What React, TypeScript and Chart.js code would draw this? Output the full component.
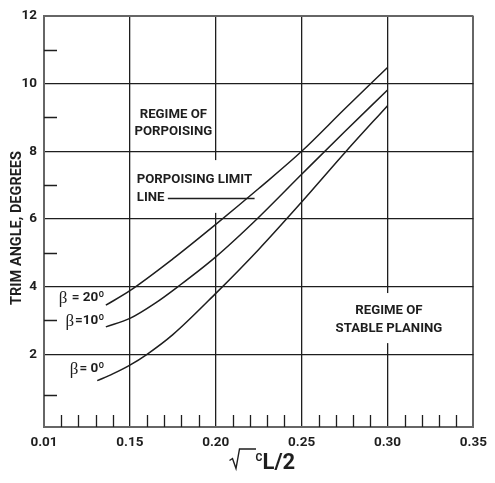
import React, { useEffect, useRef } from "react";
import { Chart, registerables } from "chart.js";

Chart.register(...registerables);

// ---- Data ----
const xTickValues = [0.1, 0.15, 0.2, 0.25, 0.3, 0.35];
const xTickLabels = ["0.01", "0.15", "0.20", "0.25", "0.30", "0.35"];
const yTickValues = [2, 4, 6, 8, 10, 12];
const yTickLabels = ["2", "4", "6", "8", "10", "12"];
const xMinorTicks = [0.11, 0.12, 0.13, 0.14, 0.16, 0.17, 0.18, 0.19, 0.21, 0.22, 0.23, 0.24, 0.26, 0.27, 0.28, 0.29, 0.31, 0.32, 0.33, 0.34];
const yMinorTicks = [0.8, 3, 5, 7, 9, 11];

const beta20X = [0.136, 0.15, 0.175, 0.2, 0.225, 0.25, 0.275, 0.3];
const beta20Y = [3.45, 3.88, 4.82, 5.84, 6.9, 8.0, 9.25, 10.48];
const beta10X = [0.136, 0.15, 0.165, 0.178, 0.2, 0.224, 0.25, 0.275, 0.3];
const beta10Y = [2.81, 3.06, 3.52, 4.0, 4.88, 6.0, 7.32, 8.58, 9.81];
const beta0X = [0.131, 0.14, 0.15, 0.16, 0.175, 0.2, 0.225, 0.25, 0.275, 0.3];
const beta0Y = [1.22, 1.42, 1.68, 2.0, 2.58, 3.8, 5.1, 6.5, 7.95, 9.35];

const seriesNames = ["β = 20º", "β=10º", "β= 0º"];

const SANS = "Roboto";
const INK = "#1e1e1e";

const toPoints = (xs: number[], ys: number[]) => xs.map((x, i) => ({ x, y: ys[i] }));

const annotationPlugin = {
  id: "annotations",
  beforeDatasetsDraw(chart: any) {
    const { ctx, chartArea } = chart;
    const xs = chart.scales.x;
    const ys = chart.scales.y;
    const X = (v: number) => xs.getPixelForValue(v);
    const Y = (v: number) => ys.getPixelForValue(v);
    ctx.save();

    // white boxes that interrupt grid lines behind text
    ctx.fillStyle = "#ffffff";
    const box = (x0: number, x1: number, y0: number, y1: number) => {
      ctx.fillRect(X(x0), Y(y0), X(x1) - X(x0), Y(y1) - Y(y0));
    };
    box(0.1525, 0.2053, 7.74, 6.18);
    box(0.2682, 0.3334, 3.81, 2.33);

    // minor ticks
    ctx.strokeStyle = INK;
    ctx.lineWidth = 1.3;
    ctx.beginPath();
    for (const v of xMinorTicks) {
      const px = Math.round(X(v)) + 0.5;
      ctx.moveTo(px, chartArea.bottom);
      ctx.lineTo(px, chartArea.bottom - 12);
    }
    for (const v of yMinorTicks) {
      const py = Math.round(Y(v)) + 0.5;
      ctx.moveTo(chartArea.left, py);
      ctx.lineTo(chartArea.left + 13, py);
    }
    ctx.stroke();

    // text annotations
    ctx.fillStyle = INK;
    ctx.font = `bold 13.2px ${SANS}`;
    ctx.textBaseline = "middle";
    ctx.textAlign = "center";
    ctx.fillText("REGIME OF", X(0.1753), Y(9.07));
    ctx.fillText("PORPOISING", X(0.1753), Y(8.57));
    ctx.fillText("REGIME OF", X(0.3008), Y(3.28));
    ctx.fillText("STABLE PLANING", X(0.3008), Y(2.77));
    ctx.textAlign = "left";
    ctx.fillText("PORPOISING LIMIT", X(0.154), Y(7.15));
    ctx.fillText("LINE", X(0.154), Y(6.63));

    // pointer line
    ctx.lineWidth = 1.3;
    ctx.beginPath();
    ctx.moveTo(X(0.1721), Math.round(Y(6.63)) + 0.5);
    ctx.lineTo(X(0.2226), Math.round(Y(6.63)) + 0.5);
    ctx.stroke();

    // beta labels (serif beta + bold sans rest), right aligned
    const labelYs = [3.68, 2.99, 1.58];
    const rightX = X(0.1352);
    seriesNames.forEach((name, i) => {
      const beta = name.charAt(0);
      const rest = name.slice(1);
      ctx.font = `bold 13.5px ${SANS}`;
      const wRest = ctx.measureText(rest).width;
      ctx.textAlign = "right";
      ctx.fillText(rest, rightX, Y(labelYs[i]));
      ctx.font = `17px "Liberation Serif"`;
      ctx.fillText(beta, rightX - wRest - 1, Y(labelYs[i]) + 1);
    });

    // y axis title
    ctx.save();
    ctx.translate(17, 228);
    ctx.rotate(-Math.PI / 2);
    ctx.font = `bold 14.5px ${SANS}`;
    ctx.textAlign = "center";
    ctx.textBaseline = "middle";
    ctx.fillText("TRIM ANGLE, DEGREES", 0, 0);
    ctx.restore();

    // x axis title: sqrt(C L/2)
    ctx.lineWidth = 1.4;
    ctx.beginPath();
    ctx.moveTo(229.5, 460.5);
    ctx.lineTo(232.5, 458.5);
    ctx.lineTo(236, 468.5);
    ctx.lineTo(239.5, 449);
    ctx.lineTo(256, 449);
    ctx.stroke();
    ctx.textAlign = "left";
    ctx.textBaseline = "alphabetic";
    ctx.font = `bold 10.5px ${SANS}`;
    ctx.fillText("C", 255.5, 460.5);
    ctx.font = `bold 22px ${SANS}`;
    ctx.fillText("L/2", 262.5, 468.5);

    ctx.restore();
  },
};

export default function App() {
  const canvasRef = useRef<HTMLCanvasElement | null>(null);

  useEffect(() => {
    if (!canvasRef.current) return;
    const lineStyle = {
      borderColor: INK,
      borderWidth: 1.5,
      pointRadius: 0,
      fill: false,
      cubicInterpolationMode: "monotone" as const,
    };
    const chart = new Chart(canvasRef.current, {
      type: "line",
      data: {
        datasets: [
          { label: seriesNames[0], data: toPoints(beta20X, beta20Y), ...lineStyle },
          { label: seriesNames[1], data: toPoints(beta10X, beta10Y), ...lineStyle },
          { label: seriesNames[2], data: toPoints(beta0X, beta0Y), ...lineStyle },
        ],
      },
      options: {
        animation: false,
        responsive: false,
        devicePixelRatio: 1,
        layout: { padding: { top: 16, right: 14, left: 0, bottom: 0 } },
        plugins: { legend: { display: false }, tooltip: { enabled: false } },
        scales: {
          x: {
            type: "linear",
            min: 0.1,
            max: 0.35,
            afterBuildTicks: (s: any) => {
              s.ticks = xTickValues.map((v) => ({ value: v }));
            },
            afterFit: (s: any) => {
              s.height = 56;
            },
            grid: {
              drawTicks: false,
              color: (c: any) => (c.tick && (c.tick.value === 0.1 || c.tick.value === 0.35) ? "#666" : INK),
              lineWidth: (c: any) => (c.tick && (c.tick.value === 0.1 || c.tick.value === 0.35) ? 2 : 1.3),
            },
            border: { display: true, color: "#666", width: 2 },
            ticks: {
              autoSkip: false,
              maxRotation: 0,
              padding: 8,
              color: INK,
              font: { family: SANS, weight: "bold", size: 13.5 },
              callback: (_v: any, i: number) => xTickLabels[i],
            },
          },
          y: {
            type: "linear",
            min: -0.15,
            max: 12,
            afterBuildTicks: (s: any) => {
              s.ticks = yTickValues.map((v) => ({ value: v }));
            },
            afterFit: (s: any) => {
              s.width = 44;
            },
            grid: {
              drawTicks: false,
              color: (c: any) => (c.tick && c.tick.value === 12 ? "#666" : INK),
              lineWidth: (c: any) => (c.tick && c.tick.value === 12 ? 2 : 1.3),
            },
            border: { display: true, color: "#666", width: 2 },
            ticks: {
              padding: 7,
              color: INK,
              font: { family: SANS, weight: "bold", size: 13.5 },
              callback: (_v: any, i: number) => yTickLabels[i],
            },
          },
        },
      },
      plugins: [annotationPlugin],
    });
    return () => chart.destroy();
  }, []);

  return (
    <canvas
      ref={canvasRef}
      width={495}
      height={483}
      style={{ position: "absolute", left: 0, top: 0, width: 495, height: 483 }}
    />
  );
}
